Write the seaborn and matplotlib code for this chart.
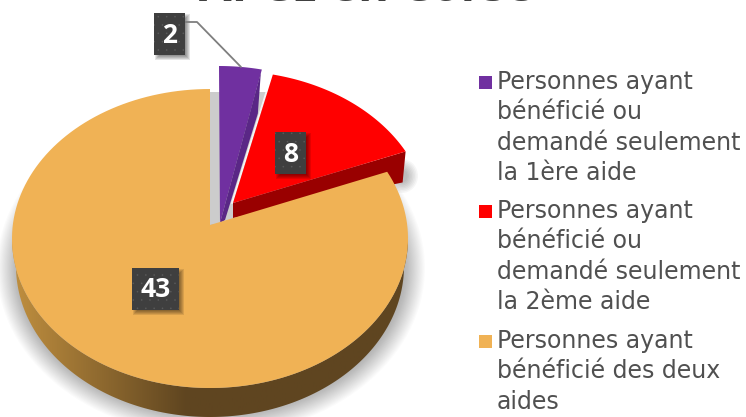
import numpy as np
import matplotlib
matplotlib.use("Agg")
import matplotlib.pyplot as plt
from matplotlib.colors import LinearSegmentedColormap
from matplotlib.patches import Ellipse, Polygon, Rectangle
import seaborn as sns

labels = ["Personnes ayant\nbénéficié ou\ndemandé seulement\nla 1ère aide",
          "Personnes ayant\nbénéficié ou\ndemandé seulement\nla 2ème aide",
          "Personnes ayant\nbénéficié des deux\naides"]
values = [2, 8, 43]
colors = ["#7030A0", "#FF0000", "#F0B255"]
title = "APCE en Corse"  # only the bottom of the letters is visible, wording is a guess

sns.set_theme(style="white")
plt.rcParams["font.family"] = ["DejaVu Sans"]
plt.rcParams["hatch.linewidth"] = 0.0

fig = plt.figure(figsize=(7.46, 4.17), dpi=100)
ax = fig.add_axes([0, 0, 1, 1])

RX, RY = 198, 149.5
WARP = 0.92  # the tilt squeezes the angles at the back of the pie


def arc(a0, a1, cx, cy, rx=RX, ry=RY, n=160):
    # angle measured clockwise from top
    t = np.radians(np.linspace(a0, a1, n))
    return np.column_stack([cx + rx * np.sin(t), cy - ry * np.cos(t)])


total = sum(values)
angles = np.cumsum([0] + [v / total * 360 for v in values]) * WARP

# soft shadow under the pie
for i in range(24):
    ax.add_patch(Ellipse((211, 268), 428 - 2.2 * i, 336 - 2.2 * i, color="black", alpha=0.016, lw=0, zorder=1))
# and behind the corner of the red slice
for i in range(8):
    ax.add_patch(Ellipse((402, 176), 32 - 3 * i, 34 - 3 * i, color="black", alpha=0.035, lw=0, zorder=1))

# grey inner face seen behind the exploded slices
ax.add_patch(Polygon([(210, 92), (267, 92), (236, 212), (232, 222), (210, 225)], color="#CCCCCC", lw=0, zorder=2))

# wall of the big slice
wall = np.vstack([arc(90, 270, 210, 238.5), arc(270, 90, 210, 266, rx=194, ry=151)])
cmap = LinearSegmentedColormap.from_list("wall", [(0, "#C08F3F"), (0.44, "#5F4520"), (1, "#5F4520")])
grad = np.linspace(0, 1, 256).reshape(1, -1)
im = ax.imshow(grad, extent=[12, 408, 417, 0], cmap=cmap, aspect="auto", zorder=3)
wall_patch = Polygon(wall, fc="none", lw=0, zorder=3)
ax.add_patch(wall_patch)
im.set_clip_path(wall_patch)

# big slice top
big = arc(angles[2] + 1, 360, 210, 238.5)
ax.add_patch(Polygon(np.vstack([[210, 225], big]), color=colors[2], lw=0, zorder=4))

# red slice, exploded
red = arc(angles[1], angles[2], 230, 220.5)
red_tip = np.array([233, 203])
ax.add_patch(Polygon(np.vstack([red_tip, red[-1], red[-1] + [-3, 31], red_tip + [0, 15]]),
                     color="#990000", lw=0, zorder=3.4))
ax.add_patch(Polygon(np.vstack([red_tip, red]), color=colors[1], lw=0, zorder=3.5))
ax.plot([red_tip[0] - 1, red[0][0] - 1], [red_tip[1], red[0][1]], color="white", lw=1.4, alpha=0.8, zorder=3.45)

# purple slice, exploded
pur = arc(angles[0], angles[1], 219, 215.5)
pur_tip = np.array([220, 223])
ax.add_patch(Polygon(np.vstack([pur_tip, pur]), color=colors[0], lw=0, zorder=3.3))
ax.add_patch(Polygon(np.vstack([pur[-1] + [-1, 3], pur[-1] + [-4, 44], pur_tip + [5, -3], pur_tip]),
                     color="#5A2786", lw=0, zorder=3.35))

# value labels
label_x = [169.5, 290.5, 155.5]
label_y = [34, 153, 288.5]
label_w = [31, 31, 47]
for v, x, y, w in zip(values, label_x, label_y, label_w):
    for i in range(5):
        ax.add_patch(Rectangle((x - w / 2 + 1 + i, y - 21 + 1 + i), w + 4 - 2 * i, 42 + 4 - 2 * i,
                               color="black", alpha=0.10, lw=0, zorder=5))
    ax.add_patch(Rectangle((x - w / 2, y - 21), w, 42, fc="#3F3F3F", ec="#5A5A5A", hatch="..", lw=0, zorder=6))
    ax.text(x, y + 1, str(v), color="white", fontsize=19, fontweight="bold", family="Open Sans",
            ha="center", va="center", zorder=7)

# leader line for the small slice
ax.plot([185, 197, 241], [22, 22, 67], color="#7F7F7F", lw=1.3, zorder=5)

# title, cut by the top edge like in the source
ax.text(366, 1, title, color="#404040", fontsize=34, fontweight="bold", family="Open Sans",
        ha="center", va="baseline")

# legend
legend_y = [84, 213, 343]
for lab, col, y in zip(labels, colors, legend_y):
    ax.add_patch(Rectangle((479, y - 8), 13, 13, color=col, lw=0))
    ax.text(497, y - 14, lab, color="#505050", fontsize=17, ha="left", va="top", linespacing=1.33)

ax.set_xlim(0, 746)
ax.set_ylim(417, 0)
ax.axis("off")

fig.savefig("out.png", dpi=100)
